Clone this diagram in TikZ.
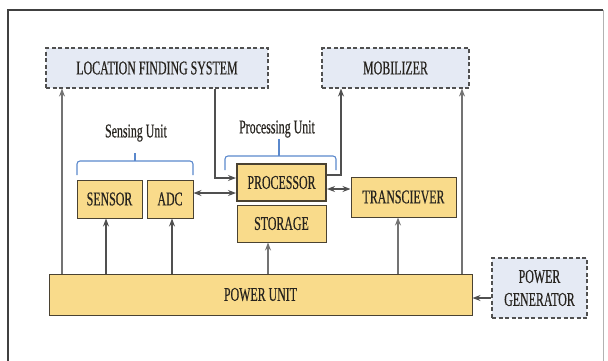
\documentclass[tikz,border=0pt]{standalone}
\usepackage{fontspec}
\setmainfont{Liberation Serif}[FakeStretch=0.61, FakeBold=0.4]
\usetikzlibrary{arrows.meta}
\definecolor{yfill}{HTML}{F9DB8B}
\definecolor{ydraw}{HTML}{4A4232}
\definecolor{bfill}{HTML}{E5EAF4}
\definecolor{bdraw}{HTML}{505050}
\definecolor{brc}{HTML}{5A88CC}
\definecolor{txt}{HTML}{26231E}
\definecolor{ln}{HTML}{505050}
\tikzset{
  ybox/.style={draw=ydraw, fill=yfill, line width=1pt, inner sep=0pt, text=txt, font=\fontsize{19.5}{23}\selectfont, align=center},
  dbox/.style={draw=bdraw, fill=bfill, dashed, dash pattern=on 4pt off 2.5pt, line width=1.1pt, inner sep=0pt, text=txt, font=\fontsize{19.5}{23}\selectfont, align=center},
  arr/.style={draw=ln, line width=1.1pt, -{Stealth[length=8pt,width=6pt]}},
  darr/.style={draw=ln, line width=1.1pt, {Stealth[length=8pt,width=6pt]}-{Stealth[length=8pt,width=6pt]}},
  brace/.style={draw=brc, line width=1.1pt, rounded corners=3pt},
  lbl/.style={text=txt, font=\fontsize{19.5}{23}\selectfont, inner sep=0pt}
}
\begin{document}
\begin{tikzpicture}[x=1pt,y=-1pt]
\useasboundingbox (0,0) rectangle (608,360);
% frame
\draw[line width=1.6pt, color=black!75] (8,370) -- (8,10) -- (603,10);
\draw[line width=1pt, color=black!30] (603,10) -- (603,370);
% nodes
\node[dbox, minimum width=222pt, minimum height=40pt] (lfs) at (157,68) {LOCATION FINDING SYSTEM};
\node[dbox, minimum width=147pt, minimum height=40pt] (mob) at (395.5,68) {MOBILIZER};
\node[ybox, minimum width=65pt, minimum height=38pt] (sensor) at (109.5,199) {SENSOR};
\node[ybox, minimum width=46pt, minimum height=38pt] (adc) at (170,199) {ADC};
\node[ybox, line width=2pt, minimum width=89pt, minimum height=37pt] (proc) at (281.5,182.5) {PROCESSOR};
\node[ybox, minimum width=89pt, minimum height=37pt] (stor) at (281.5,223.5) {STORAGE};
\node[ybox, minimum width=105pt, minimum height=40pt] (trans) at (403.5,197) {TRANSCIEVER};
\node[ybox, minimum width=423pt, minimum height=41pt] (power) at (260.5,294.5) {POWER UNIT};
\node[dbox, minimum width=95pt, minimum height=60pt] (gen) at (539.5,288) {POWER\\GENERATOR};
\node[lbl] (slbl) at (136,133) {Sensing Unit};
\node[lbl] (plbl) at (277,129) {Processing Unit};
% braces
\draw[brace] (77,175) |- (135,161) -- (193,161) -- (193,175);
\draw[brace] (135,161) -- (135,153);
\draw[brace] (225,170) |- (279,156) -| (336,170);
\draw[brace] (279,156) -- (279,139);
% power arrows
\draw[arr, draw=black!55] (power.north -| 62,0) -- (lfs.south -| 62,0);
\draw[arr] (power.north -| 106,0) -- (sensor.south -| 106,0);
\draw[arr] (power.north -| 172,0) -- (adc.south -| 172,0);
\draw[arr, draw=black!55] (power.north -| 268,0) -- (stor.south -| 268,0);
\draw[arr, draw=black!55] (power.north -| 398,0) -- (trans.south -| 398,0);
\draw[arr, draw=black!55] (power.north -| 462,0) -- (mob.south -| 462,0);
\draw[arr] (gen.west |- 0,298) -- (power.east |- 0,298);
% processor links
\draw[arr] (lfs.south -| 215,0) |- (proc.west |- 0,178);
\draw[arr] (proc.east |- 0,175) -| (mob.south -| 341,0);
\draw[darr] (adc.east |- 0,193) -- (proc.west |- 0,193);
\draw[darr] (proc.east |- 0,189) -- (trans.west |- 0,189);
\end{tikzpicture}
\end{document}
